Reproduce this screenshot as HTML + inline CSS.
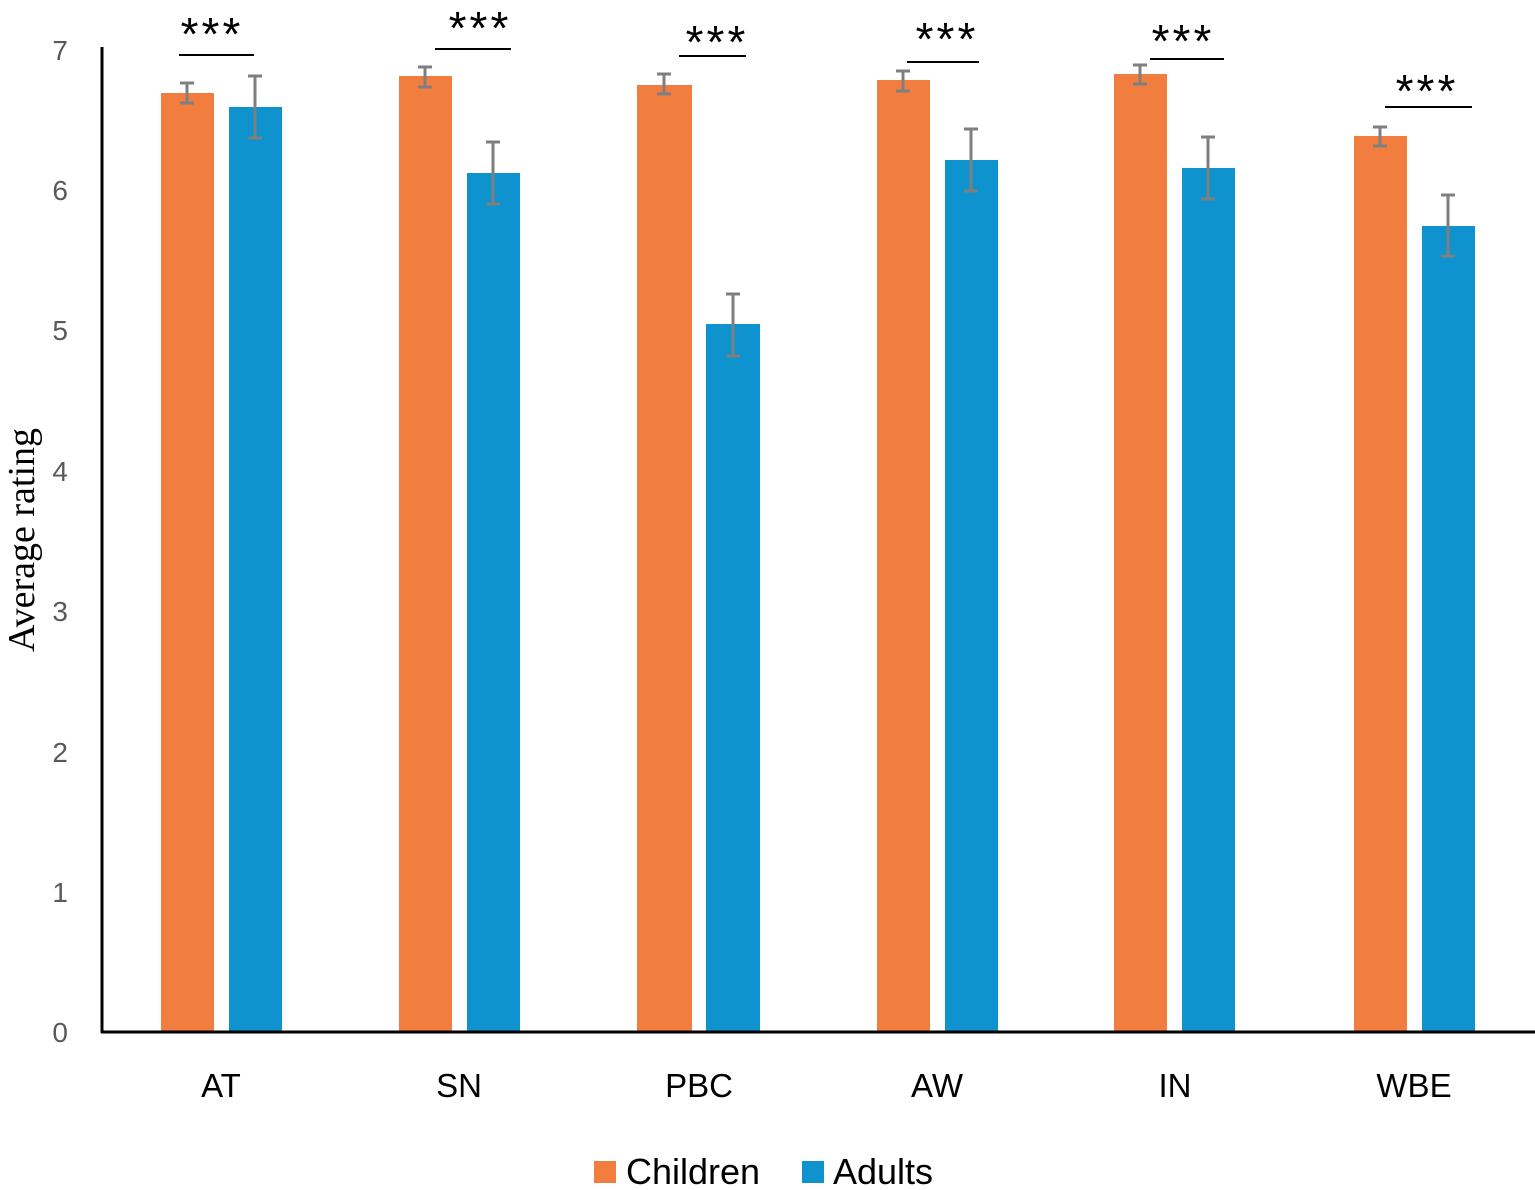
<!DOCTYPE html>
<html><head><meta charset="utf-8"><style>
html,body{margin:0;padding:0;background:#fff;}
</style></head><body>
<svg width="1535" height="1185" viewBox="0 0 1535 1185" xmlns="http://www.w3.org/2000/svg">
<rect width="1535" height="1185" fill="#fff"/>
<g font-family="Liberation Sans, sans-serif" font-size="28" fill="#595959" text-anchor="end">
<text x="68" y="1042">0</text>
<text x="68" y="902">1</text>
<text x="68" y="762">2</text>
<text x="68" y="621">3</text>
<text x="68" y="481">4</text>
<text x="68" y="340">5</text>
<text x="68" y="200">6</text>
<text x="68" y="60">7</text>
</g>
<text transform="translate(34,540) rotate(-90)" font-family="Liberation Serif, serif" font-size="38" text-anchor="middle" fill="#000">Average rating</text>
<g>
<rect x="161" y="93" width="53" height="939" fill="#F17E3E"/>
<rect x="229" y="107" width="53" height="925" fill="#0E93CF"/>
<rect x="399" y="76" width="53" height="956" fill="#F17E3E"/>
<rect x="467" y="173" width="53" height="859" fill="#0E93CF"/>
<rect x="637" y="85" width="55" height="947" fill="#F17E3E"/>
<rect x="706" y="324" width="54" height="708" fill="#0E93CF"/>
<rect x="877" y="80" width="53" height="952" fill="#F17E3E"/>
<rect x="945" y="160" width="53" height="872" fill="#0E93CF"/>
<rect x="1114" y="74" width="53" height="958" fill="#F17E3E"/>
<rect x="1182" y="168" width="53" height="864" fill="#0E93CF"/>
<rect x="1354" y="136" width="53" height="896" fill="#F17E3E"/>
<rect x="1422" y="226" width="53" height="806" fill="#0E93CF"/>
</g>
<g stroke="#7f7f7f" stroke-width="3" fill="none">
<path d="M187 83V103M180 83H194M180 103H194"/>
<path d="M255 76V138M248 76H262M248 138H262"/>
<path d="M425 67V87M418 67H432M418 87H432"/>
<path d="M493 142V204M486 142H500M486 204H500"/>
<path d="M664 74V94M657 74H671M657 94H671"/>
<path d="M733 294V356M726 294H740M726 356H740"/>
<path d="M903 71V91M896 71H910M896 91H910"/>
<path d="M971 129V191M964 129H978M964 191H978"/>
<path d="M1140 65V84M1133 65H1147M1133 84H1147"/>
<path d="M1208 137V199M1201 137H1215M1201 199H1215"/>
<path d="M1380 127V146M1373 127H1387M1373 146H1387"/>
<path d="M1448 195V256M1441 195H1455M1441 256H1455"/>
</g>
<g stroke="#000" stroke-width="2">
<line x1="179" y1="55" x2="254" y2="55"/>
<line x1="435" y1="49" x2="511" y2="49"/>
<line x1="679" y1="56" x2="746" y2="56"/>
<line x1="907" y1="62" x2="979" y2="62"/>
<line x1="1150" y1="59" x2="1224" y2="59"/>
<line x1="1385" y1="107" x2="1472" y2="107"/>
</g>
<g font-family="Liberation Sans, sans-serif" font-size="46" fill="#000" text-anchor="middle" letter-spacing="3">
<text x="212" y="50">***</text>
<text x="480" y="44">***</text>
<text x="717" y="58">***</text>
<text x="947" y="55">***</text>
<text x="1183" y="57">***</text>
<text x="1427" y="107">***</text>
</g>
<g stroke="#000" stroke-width="3">
<line x1="102" y1="47" x2="102" y2="1033"/>
<line x1="101" y1="1032" x2="1535" y2="1032"/>
</g>
<g font-family="Liberation Sans, sans-serif" font-size="33" fill="#000" text-anchor="middle">
<text x="221" y="1097">AT</text>
<text x="459" y="1097">SN</text>
<text x="699" y="1097">PBC</text>
<text x="937" y="1097">AW</text>
<text x="1175" y="1097">IN</text>
<text x="1414" y="1097">WBE</text>
</g>
<rect x="594" y="1161" width="22" height="22" fill="#F17E3E"/>
<text x="626" y="1184" font-family="Liberation Sans, sans-serif" font-size="36" fill="#000">Children</text>
<rect x="802" y="1161" width="22" height="22" fill="#0E93CF"/>
<text x="833" y="1184" font-family="Liberation Sans, sans-serif" font-size="36" fill="#000">Adults</text>
</svg>
</body></html>
